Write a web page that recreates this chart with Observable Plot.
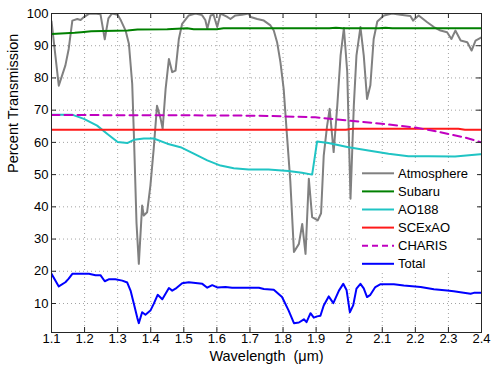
<!DOCTYPE html>
<html>
<head>
<meta charset="utf-8">
<script src="https://cdn.jsdelivr.net/npm/d3@7"></script>
<script src="https://cdn.jsdelivr.net/npm/@observablehq/plot@0.6"></script>
<style>
  html, body { margin: 0; padding: 0; background: #fff; }
  #chart { width: 498px; height: 375px; }
  svg { font-family: "Liberation Sans", Arial, Helvetica, sans-serif; }
</style>
</head>
<body>
<div id="chart"></div>
<script>
// ---- data ----
const seriesNames = ["Atmosphere", "Subaru", "AO188", "SCExAO", "CHARIS", "Total"];
const seriesColors = ["#808080", "#008000", "#20c4c4", "#ff1a1a", "#c000c0", "#0000ff"];

const xTicks = [1.1, 1.2, 1.3, 1.4, 1.5, 1.6, 1.7, 1.8, 1.9, 2.0, 2.1, 2.2, 2.3, 2.4];
const xTickLabels = ["1.1", "1.2", "1.3", "1.4", "1.5", "1.6", "1.7", "1.8", "1.9", "2", "2.1", "2.2", "2.3", "2.4"];
const yTicks = [10, 20, 30, 40, 50, 60, 70, 80, 90, 100];
const yTickLabels = ["10", "20", "30", "40", "50", "60", "70", "80", "90", "100"];
const xTitle = "Wavelength  (\u03bcm)";
const yTitle = "Percent Transmission";

const atmosphereWl = [1.100, 1.122, 1.142, 1.152, 1.163, 1.178, 1.188, 1.198, 1.213, 1.230, 1.248, 1.261, 1.272, 1.283, 1.300, 1.310, 1.324, 1.334, 1.344, 1.349, 1.357, 1.364, 1.374, 1.379, 1.389, 1.399, 1.409, 1.419, 1.430, 1.436, 1.445, 1.455, 1.465, 1.475, 1.485, 1.495, 1.515, 1.535, 1.555, 1.565, 1.571, 1.581, 1.590, 1.601, 1.611, 1.630, 1.641, 1.656, 1.676, 1.696, 1.702, 1.722, 1.742, 1.762, 1.772, 1.782, 1.792, 1.802, 1.812, 1.822, 1.833, 1.848, 1.858, 1.868, 1.878, 1.888, 1.905, 1.915, 1.923, 1.933, 1.941, 1.953, 1.964, 1.974, 1.984, 1.994, 2.004, 2.014, 2.022, 2.034, 2.044, 2.054, 2.064, 2.074, 2.085, 2.105, 2.130, 2.155, 2.185, 2.193, 2.210, 2.236, 2.256, 2.276, 2.296, 2.309, 2.321, 2.337, 2.357, 2.370, 2.382, 2.400];
const atmosphereVal = [97.6, 77.6, 83.9, 89.0, 97.8, 98.3, 98.0, 98.9, 99.9, 100, 99.8, 92.0, 98.5, 100, 99.6, 97.8, 94.7, 90.6, 78.2, 62.7, 35.0, 22.3, 40.4, 37.3, 38.3, 46.6, 58.0, 71.4, 67.3, 64.2, 76.6, 85.9, 81.8, 82.3, 92.1, 96.8, 99.4, 100, 99.5, 98.0, 95.3, 99.4, 99.6, 95.8, 100, 99.0, 98.3, 99.4, 99.6, 100, 98.9, 98.3, 97.8, 96.3, 94.7, 91.1, 85.0, 76.5, 62.0, 48.0, 26.0, 28.5, 34.7, 25.4, 48.7, 36.8, 35.8, 38.0, 55.9, 65.0, 70.4, 57.0, 71.4, 87.0, 95.5, 82.0, 42.5, 71.4, 87.0, 95.8, 87.0, 73.5, 77.7, 92.1, 97.5, 99.4, 100, 99.6, 99.2, 97.8, 99.4, 97.3, 95.8, 94.7, 94.2, 92.1, 94.7, 91.6, 91.1, 88.5, 91.6, 92.6];

const subaruWl = [1.10, 1.17, 1.19, 1.22, 1.33, 1.36, 1.45, 1.48, 1.51, 1.53, 1.60, 1.62, 1.94, 1.96, 1.98, 2.09, 2.11, 2.13, 2.40];
const subaruVal = [93.6, 94.0, 94.2, 94.5, 94.7, 95.0, 95.1, 95.3, 95.4, 95.1, 95.1, 95.4, 95.4, 95.6, 95.4, 95.4, 95.6, 95.4, 95.4];

const ao188Wl = [1.100, 1.162, 1.198, 1.238, 1.268, 1.300, 1.329, 1.349, 1.379, 1.409, 1.450, 1.490, 1.530, 1.571, 1.611, 1.651, 1.696, 1.756, 1.816, 1.857, 1.888, 1.903, 1.937, 1.998, 2.058, 2.119, 2.179, 2.240, 2.320, 2.396, 2.400];
const ao188Val = [68.6, 68.6, 67.3, 65.2, 62.7, 60.1, 59.8, 60.8, 61.2, 61.2, 59.6, 58.5, 56.5, 54.4, 52.8, 52.0, 51.6, 51.6, 51.1, 50.6, 50.0, 60.3, 59.8, 58.5, 57.5, 56.5, 55.7, 55.7, 55.6, 56.3, 56.3];

const scexaoWl = [1.10, 1.99, 2.01, 2.33, 2.35, 2.40];
const scexaoVal = [63.9, 63.9, 64.2, 64.2, 63.9, 63.9];

const charisWl = [1.10, 1.50, 1.70, 1.796, 1.897, 1.998, 2.098, 2.149, 2.20, 2.25, 2.30, 2.35, 2.40];
const charisVal = [68.5, 68.4, 68.3, 68.1, 67.8, 66.8, 65.8, 65.2, 64.6, 63.7, 62.6, 61.5, 60.0];

const totalWl = [1.100, 1.122, 1.142, 1.152, 1.163, 1.213, 1.233, 1.248, 1.261, 1.273, 1.293, 1.314, 1.329, 1.339, 1.349, 1.359, 1.364, 1.374, 1.384, 1.399, 1.409, 1.421, 1.435, 1.455, 1.465, 1.475, 1.495, 1.515, 1.556, 1.571, 1.586, 1.601, 1.626, 1.646, 1.727, 1.742, 1.772, 1.797, 1.817, 1.833, 1.848, 1.863, 1.871, 1.883, 1.893, 1.903, 1.913, 1.923, 1.938, 1.952, 1.969, 1.982, 1.992, 2.002, 2.012, 2.022, 2.034, 2.044, 2.054, 2.064, 2.079, 2.095, 2.135, 2.165, 2.216, 2.256, 2.296, 2.316, 2.336, 2.367, 2.377, 2.400];
const totalVal = [19.2, 15.3, 16.6, 17.7, 19.2, 19.2, 18.8, 18.8, 16.9, 17.5, 17.5, 17.1, 16.5, 14.0, 9.9, 5.7, 3.9, 7.3, 6.5, 7.8, 9.9, 12.7, 11.3, 14.8, 14.0, 14.6, 16.3, 16.6, 16.1, 14.9, 15.7, 15.0, 15.1, 14.9, 14.9, 14.5, 14.3, 12.0, 7.8, 3.9, 4.1, 5.1, 4.2, 7.0, 5.6, 6.0, 6.2, 9.4, 12.2, 10.1, 14.0, 16.1, 14.2, 7.3, 9.4, 14.6, 16.1, 14.7, 12.0, 12.7, 15.1, 16.0, 16.0, 15.6, 15.1, 14.4, 14.0, 13.8, 13.5, 13.0, 13.3, 13.3];

// ---- build tables ----
const pair = (wl, val, name) => wl.map((w, i) => ({wl: w, v: val[i], name}));
const series = [
  pair(atmosphereWl, atmosphereVal, "Atmosphere"),
  pair(subaruWl, subaruVal, "Subaru"),
  pair(ao188Wl, ao188Val, "AO188"),
  pair(scexaoWl, scexaoVal, "SCExAO"),
  pair(charisWl, charisVal, "CHARIS"),
  pair(totalWl, totalVal, "Total")
];

const W = 498, H = 375;
const mL = 51, mR = 17, mT = 13, mB = 43;
const fw = W - mL - mR, fh = H - mT - mB;
const tickLen = 5;
const font = "\"Liberation Sans\", Arial, Helvetica, sans-serif";

const lineMarks = series.map((d, i) => Plot.line(d, {
  x: "wl", y: "v",
  stroke: seriesColors[i],
  strokeWidth: 2,
  strokeDasharray: seriesNames[i] === "CHARIS" ? "8,5" : null,
  clip: true
}));

const chart = Plot.plot({
  width: W, height: H,
  marginLeft: mL, marginRight: mR, marginTop: mT, marginBottom: mB,
  style: {fontFamily: font, background: "#fff", overflow: "visible"},
  x: {domain: [1.1, 2.4], axis: null},
  y: {domain: [1, 100], axis: null},
  marks: [
    Plot.ruleX(xTicks, {x: d => d, stroke: "#8c8c8c", strokeWidth: 0.8, strokeDasharray: "1,3"}),
    Plot.ruleY(yTicks, {y: d => d, stroke: "#8c8c8c", strokeWidth: 0.8, strokeDasharray: "1,3"}),
    ...lineMarks,
    Plot.tickX(xTicks, {x: d => d, insetTop: fh - tickLen, stroke: "#262626"}),
    Plot.tickX(xTicks, {x: d => d, insetBottom: fh - tickLen, stroke: "#262626"}),
    Plot.tickY(yTicks, {y: d => d, insetRight: fw - tickLen, stroke: "#262626"}),
    Plot.tickY(yTicks, {y: d => d, insetLeft: fw - tickLen, stroke: "#262626"}),
    Plot.frame({stroke: "#262626", strokeWidth: 1}),
    Plot.text(xTicks, {x: d => d, text: (d, i) => xTickLabels[i], frameAnchor: "bottom", dy: 10, fontSize: 13, fill: "#000"}),
    Plot.text(yTicks, {y: d => d, text: (d, i) => yTickLabels[i], frameAnchor: "left", dx: -3, textAnchor: "end", fontSize: 13, fill: "#000"}),
    Plot.text([xTitle], {text: d => d, frameAnchor: "bottom", dy: 28, fontSize: 14.5, fill: "#000"}),
    Plot.text([yTitle], {text: d => d, frameAnchor: "left", dx: -38.5, rotate: -90, fontSize: 14.5, fill: "#000"})
  ]
});

// ---- legend (inside the axes, white background, no border) ----
const svg = d3.select(chart);
const lg = svg.append("g").attr("class", "legend").attr("text-anchor", "start");
const lx = 357, ly = 163, rowH = 18.1;
lg.append("rect").attr("x", lx).attr("y", ly).attr("width", 120).attr("height", 110).attr("fill", "#fff");
seriesNames.forEach((name, i) => {
  const yy = 173.3 + i * rowH;
  lg.append("line")
    .attr("x1", 362).attr("x2", 394).attr("y1", yy).attr("y2", yy)
    .attr("stroke", seriesColors[i]).attr("stroke-width", 2)
    .attr("stroke-dasharray", name === "CHARIS" ? "6,4" : null);
  lg.append("text")
    .attr("x", 398).attr("y", yy).attr("dy", "0.35em")
    .attr("text-anchor", "start")
    .attr("font-size", 13).attr("font-family", font).attr("fill", "#000")
    .text(name);
});

document.getElementById("chart").appendChild(chart);
</script>
</body>
</html>
